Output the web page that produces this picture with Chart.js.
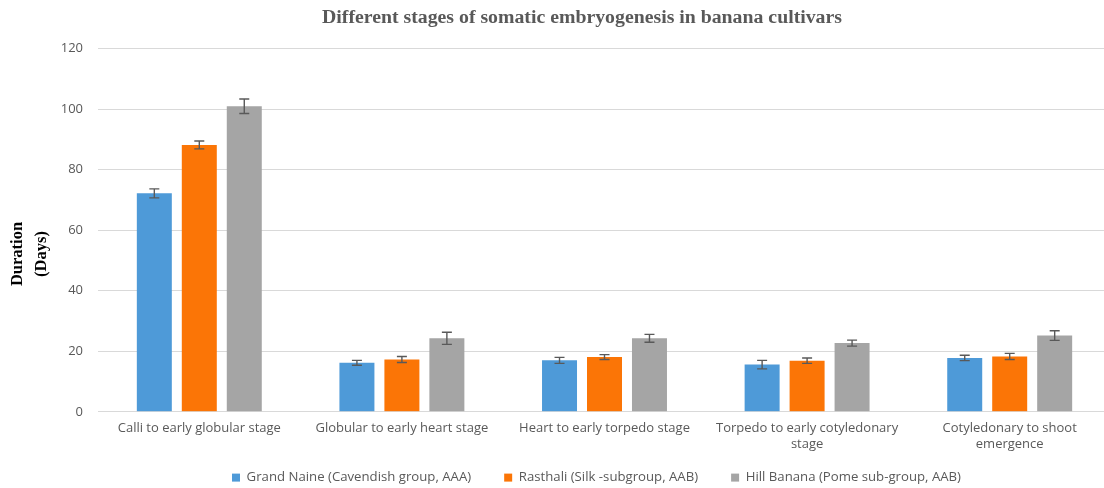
<!DOCTYPE html>
<html>
<head>
<meta charset="utf-8">
<script src="https://cdn.jsdelivr.net/npm/chart.js@4.4.1/dist/chart.umd.min.js"></script>
<style>
  html, body { margin: 0; padding: 0; background: #fff; }
  #wrap { width: 1104px; height: 488px; position: relative; }
</style>
</head>
<body>
<div id="wrap"><canvas id="chart" width="1104" height="488"></canvas></div>
<script>
// Data
const stages = [
  'Calli to early globular stage',
  'Globular to early heart stage',
  'Heart to early torpedo stage',
  ['Torpedo to early cotyledonary', 'stage'],
  ['Cotyledonary to shoot', 'emergence']
];
const grandNaine = [72.2, 16.2, 17.0, 15.6, 17.8];
const grandNaineErr = [1.5, 0.8, 1.0, 1.4, 0.9];
const rasthali = [88.2, 17.3, 18.1, 16.9, 18.3];
const rasthaliErr = [1.3, 1.0, 0.8, 0.9, 1.0];
const hillBanana = [101.0, 24.3, 24.3, 22.7, 25.2];
const hillBananaErr = [2.4, 2.0, 1.3, 1.0, 1.6];
const yTicks = [0, 20, 40, 60, 80, 100, 120];
const yTitle = ['Duration', '(Days)'];

const LEGEND_PAD = 33;

// Error bars, drawn from the bar elements and the y scale
const errorBars = {
  id: 'errorBars',
  afterDatasetsDraw(chart) {
    const ctx = chart.ctx;
    const yScale = chart.scales.y;
    ctx.save();
    ctx.strokeStyle = '#595959';
    ctx.lineWidth = 1.4;
    chart.data.datasets.forEach((ds, i) => {
      const meta = chart.getDatasetMeta(i);
      meta.data.forEach((bar, j) => {
        const v = ds.data[j], e = ds.errors[j];
        const yTop = yScale.getPixelForValue(v + e);
        const yBot = yScale.getPixelForValue(v - e);
        const x = bar.x;
        ctx.beginPath();
        ctx.moveTo(x, yTop); ctx.lineTo(x, yBot);
        ctx.moveTo(x - 5, yTop); ctx.lineTo(x + 5, yTop);
        ctx.moveTo(x - 5, yBot); ctx.lineTo(x + 5, yBot);
        ctx.stroke();
      });
    });
    ctx.restore();
  }
};

// y axis title sits a little below the middle of the axis in the original
const sideTitle = {
  id: 'sideTitle',
  afterDraw(chart) {
    const ctx = chart.ctx;
    ctx.save();
    ctx.fillStyle = '#000';
    ctx.font = 'bold 16.5px "Liberation Serif", serif';
    ctx.textAlign = 'center';
    ctx.textBaseline = 'middle';
    ctx.translate(0, 254);
    ctx.rotate(-Math.PI / 2);
    ctx.fillText(yTitle[0], 0, 18);
    ctx.fillText(yTitle[1], 0, 42);
    ctx.restore();
  }
};

// legend placed where the original has it, x axis runs a bit past the right edge
const placeBoxes = {
  id: 'placeBoxes',
  afterLayout(chart) {
    const lg = chart.legend;
    lg.left = 232 - LEGEND_PAD;
    lg.right = 1500;
    lg.top = 471 - LEGEND_PAD;
    lg.bottom = 488;

    const x = chart.scales.x;
    x.right = x.left + 1013;
    x.width = 1013;
    x.configure();
  }
};

const tickFont = { family: 'Open Sans, Liberation Sans, sans-serif', size: 13 };

new Chart(document.getElementById('chart').getContext('2d'), {
  type: 'bar',
  data: {
    labels: stages,
    datasets: [
      { label: 'Grand Naine (Cavendish group, AAA)', data: grandNaine, errors: grandNaineErr, backgroundColor: '#4e9ad8' },
      { label: 'Rasthali (Silk -subgroup, AAB)', data: rasthali, errors: rasthaliErr, backgroundColor: '#fb7506' },
      { label: 'Hill Banana (Pome sub-group, AAB)', data: hillBanana, errors: hillBananaErr, backgroundColor: '#a5a5a5' }
    ]
  },
  options: {
    responsive: false,
    animation: false,
    layout: { padding: { left: 60, right: 0, top: 0, bottom: 0 } },
    datasets: { bar: { categoryPercentage: 0.666, barPercentage: 0.778 } },
    plugins: {
      title: {
        display: true,
        text: 'Different stages of somatic embryogenesis in banana cultivars',
        color: '#595959',
        font: { family: 'Liberation Serif, serif', size: 19.8, weight: 'bold' },
        padding: { top: 6, bottom: 19 }
      },
      legend: {
        position: 'bottom',
        align: 'start',
        maxHeight: 27,
        labels: {
          color: '#595959',
          font: { family: 'Open Sans, Liberation Sans, sans-serif', size: 13.2 },
          boxWidth: 8,
          boxHeight: 8,
          padding: LEGEND_PAD
        }
      },
      tooltip: { enabled: false }
    },
    scales: {
      x: {
        grid: { display: false, drawTicks: false },
        border: { color: '#d9d9d9' },
        ticks: { color: '#595959', font: tickFont, maxRotation: 0, padding: 9 }
      },
      y: {
        min: 0,
        max: 120,
        afterBuildTicks: (axis) => { axis.ticks = yTicks.map(v => ({ value: v })); },
        afterFit: (axis) => { axis.width = 38; },
        grid: { color: '#d9d9d9', drawTicks: false },
        border: { display: false },
        ticks: { color: '#595959', font: tickFont, padding: 15 }
      }
    }
  },
  plugins: [errorBars, sideTitle, placeBoxes]
});
</script>
</body>
</html>
